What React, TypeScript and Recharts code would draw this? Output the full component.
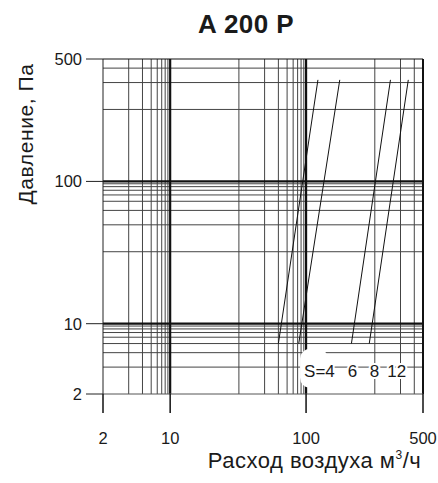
import React from 'react';
import { LineChart, Line, XAxis, YAxis, ReferenceLine, ReferenceDot } from 'recharts';

// Chart data (air flow m³/h vs pressure Pa)
const flowTicks = [2, 10, 100, 500];
const pressureTicks = [2, 10, 100, 500];
const flowGrid = [3, 4, 5, 6, 7, 8, 9, 20, 30, 40, 50, 60, 70, 80, 90, 200, 300, 400];
const pressureGrid = [3, 4, 5, 6, 7, 8, 9, 20, 30, 40, 50, 60, 70, 80, 90, 200, 300, 400];
const majorLines = [10, 100];
const curveS4 = [{ flow: 40, pressure: 5 }, { flow: 110, pressure: 315 }];
const curveS6 = [{ flow: 73, pressure: 5 }, { flow: 134, pressure: 315 }];
const curveS8 = [{ flow: 151, pressure: 5 }, { flow: 252, pressure: 315 }];
const curveS12 = [{ flow: 186, pressure: 5 }, { flow: 350, pressure: 315 }];
const curveLabelAnchor = { flow: 91, pressure: 2.55 };
const sLabels = ['S=4', '6', '8', '12'];

// Paper grid warp used by the original chart: each decade has equal length,
// subdivisions follow m^-0.8 spacing.
const EXP = 0.8;
const warp = (v: number) => {
  const k = Math.floor(Math.log10(v) + 1e-9);
  const m = v / Math.pow(10, k);
  return k + (1 - Math.pow(m, -EXP)) / (1 - Math.pow(10, -EXP));
};

const toXY = (arr: { flow: number; pressure: number }[]) =>
  arr.map((p) => ({ x: warp(p.flow), y: warp(p.pressure) }));

const FONT = '"Liberation Sans", Arial, Helvetica, sans-serif';
const xDomain = [warp(flowTicks[0]), warp(flowTicks[flowTicks.length - 1])];
const yDomain = [warp(pressureTicks[0]), warp(pressureTicks[pressureTicks.length - 1])];

const CurveLabel = (props: any) => {
  const vb = props.viewBox || {};
  const x = vb.x + (vb.width || 0) / 2;
  const y = vb.y + (vb.height || 0) / 2;
  return (
    <g>
      <rect x={x - 4} y={y - 28} width={28} height={39} rx={10} fill="#fff" />
      <text
        x={x}
        y={y}
        fontSize={17}
        fontFamily={FONT}
        fill="#1a1a1a"
        stroke="#fff"
        strokeWidth={4}
        strokeLinejoin="round"
        style={{ paintOrder: 'stroke' }}
      >
        {sLabels[0]}
        <tspan dx={13}>{sLabels[1]}</tspan>
        <tspan dx={12.6}>{sLabels[2]}</tspan>
        <tspan dx={8}>{sLabels[3]}</tspan>
      </text>
    </g>
  );
};

export default function App() {
  return (
    <div style={{ position: 'absolute', left: 0, top: 0, width: 438, height: 483, background: '#fff' }}>
      <LineChart width={438} height={483} margin={{ top: 59, right: 15, bottom: 0, left: 0 }}>
        <XAxis
          type="number"
          dataKey="x"
          domain={xDomain}
          allowDataOverflow
          ticks={flowTicks.map(warp)}
          tickFormatter={(_v: number, i: number) => String(flowTicks[i])}
          height={89}
          tickSize={19}
          tickMargin={19}
          axisLine={{ stroke: '#555', strokeWidth: 1 }}
          tickLine={{ stroke: '#111', strokeWidth: 1.5 }}
          tick={{ fill: '#1a1a1a', fontSize: 16.5, fontFamily: FONT }}
        />
        <YAxis
          type="number"
          dataKey="y"
          domain={yDomain}
          allowDataOverflow
          ticks={pressureTicks.map(warp)}
          tickFormatter={(_v: number, i: number) => String(pressureTicks[i])}
          width={103}
          tickSize={17}
          tickMargin={4}
          axisLine={{ stroke: '#222', strokeWidth: 1 }}
          tickLine={{ stroke: '#222', strokeWidth: 1 }}
          tick={{ fill: '#1a1a1a', fontSize: 16.5, fontFamily: FONT }}
        />
        {flowGrid.map((v) => (
          <ReferenceLine key={'vx' + v} x={warp(v)} stroke="#444" strokeWidth={1} />
        ))}
        {pressureGrid.map((v) => (
          <ReferenceLine key={'hy' + v} y={warp(v)} stroke="#444" strokeWidth={1} />
        ))}
        {majorLines.map((v) => (
          <ReferenceLine key={'mx' + v} x={warp(v)} stroke="#111" strokeWidth={2.2} />
        ))}
        {majorLines.map((v) => (
          <ReferenceLine key={'my' + v} y={warp(v)} stroke="#111" strokeWidth={2.2} />
        ))}
        <ReferenceLine y={yDomain[1]} stroke="#111" strokeWidth={1.2} />
        <ReferenceLine x={xDomain[1]} stroke="#111" strokeWidth={2} />
        {[curveS4, curveS6, curveS8, curveS12].map((c, i) => (
          <Line
            key={'c' + i}
            data={toXY(c)}
            dataKey="y"
            stroke="#111"
            strokeWidth={1}
            dot={false}
            isAnimationActive={false}
          />
        ))}
        <ReferenceDot
          x={warp(curveLabelAnchor.flow)}
          y={warp(curveLabelAnchor.pressure)}
          r={1}
          fill="none"
          stroke="none"
          label={<CurveLabel />}
        />
      </LineChart>
      <svg
        width={438}
        height={483}
        style={{ position: 'absolute', left: 0, top: 0, pointerEvents: 'none' }}
      >
        <text x={246} y={33} textAnchor="middle" fontSize={26} fontWeight="bold" fontFamily={FONT} fill="#1a1a1a" letterSpacing={0.4}>
          A 200 P
        </text>
        <text
          transform="translate(33,134) rotate(-90)"
          textAnchor="middle"
          fontSize={21}
          fontFamily={FONT}
          fill="#1a1a1a"
          letterSpacing={0.6}
        >
          Давление, Па
        </text>
        <text x={314.5} y={468} textAnchor="middle" fontSize={22} fontFamily={FONT} fill="#1a1a1a" letterSpacing={0.5}>
          Расход воздуха м<tspan fontSize={12} dy={-9}>3</tspan>
          <tspan dy={9}>/ч</tspan>
        </text>
      </svg>
    </div>
  );
}
